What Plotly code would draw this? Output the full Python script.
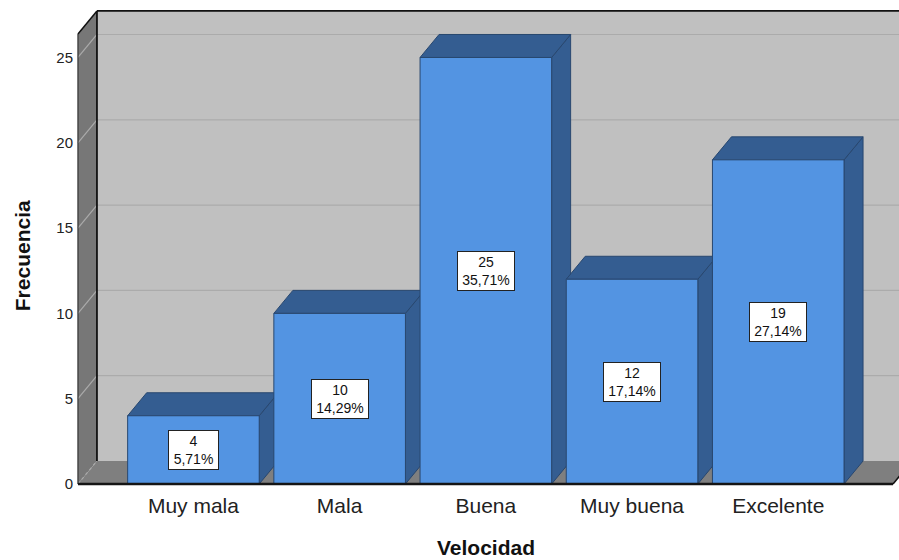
import plotly.graph_objects as go

# --- data ---
categories = ["Muy mala", "Mala", "Buena", "Muy buena", "Excelente"]
counts = [4, 10, 25, 12, 19]
y_ticks = [0, 5, 10, 15, 20, 25]

# --- 3D frame geometry (axis units) ---
DX = 0.130          # depth offset along x
DY = 1.348          # depth offset along y
BAR_HALF = 0.45     # half bar width
WALL_LEFT = -0.790  # front edge of the left wall
WALL_RIGHT = 4.785  # front-right corner of the floor
WALL_TOP = 26.38    # front height of the left wall
X_RANGE = [-0.817, 4.826]
Y_RANGE = [-0.352, 27.90]

FONT = "Liberation Sans, Arial, sans-serif"
FRONT = "#5394E2"
SHADE = "#345D91"
EDGE = "#28476F"

total = sum(counts)
fig = go.Figure()


def poly(xs, ys, fill, line_color=None, width=0):
    fig.add_trace(go.Scatter(
        x=xs + [xs[0]], y=ys + [ys[0]], mode="lines", fill="toself",
        fillcolor=fill,
        line=dict(color=line_color or fill, width=width),
        hoverinfo="skip", showlegend=False))


def seg(xs, ys, color, width, dash=None):
    fig.add_trace(go.Scatter(
        x=xs, y=ys, mode="lines",
        line=dict(color=color, width=width, dash=dash),
        hoverinfo="skip", showlegend=False))


far_right = X_RANGE[1] + 0.5

# back wall
poly([WALL_LEFT + DX, far_right, far_right, WALL_LEFT + DX],
     [DY, DY, WALL_TOP + DY, WALL_TOP + DY], "#C0C0C0")
# left wall
poly([WALL_LEFT, WALL_LEFT + DX, WALL_LEFT + DX, WALL_LEFT],
     [0, DY, WALL_TOP + DY, WALL_TOP], "#777777")
# floor
poly([WALL_LEFT, WALL_RIGHT, WALL_RIGHT + DX, WALL_LEFT + DX],
     [0, 0, DY, DY], "#7F7F7F")

# grid lines: across the back wall and diagonally over the left wall
for v in y_ticks:
    if v > 0:
        seg([WALL_LEFT + DX, far_right], [v + DY, v + DY], "#ABABAB", 1.2)
    seg([WALL_LEFT, WALL_LEFT + DX], [v, v + DY], "#ABABAB", 1.2,
        dash="dot" if v == 0 else None)

# frame edges
seg([WALL_LEFT + DX, far_right], [WALL_TOP + DY, WALL_TOP + DY], "#111111", 1.8)
seg([WALL_LEFT, WALL_LEFT + DX], [WALL_TOP, WALL_TOP + DY], "#111111", 1.5)
seg([WALL_LEFT + DX, WALL_LEFT + DX], [DY, WALL_TOP + DY], "#111111", 1.8)
seg([WALL_LEFT, WALL_LEFT], [0, WALL_TOP], "#333333", 1.2)
seg([WALL_RIGHT, WALL_RIGHT + DX], [0, DY], "#111111", 1.5)

# bars: side, top, then front face
for i, v in enumerate(counts):
    l, r = i - BAR_HALF, i + BAR_HALF
    poly([r, r + DX, r + DX, r], [0, DY, v + DY, v], SHADE, EDGE, 1)
    poly([l, l + DX, r + DX, r], [v, v + DY, v + DY, v], SHADE, EDGE, 1)
    poly([l, r, r, l], [0, 0, v, v], FRONT, EDGE, 1)

# front floor edge
seg([WALL_LEFT, WALL_RIGHT], [0, 0], "#151515", 2.6)

# value labels
annotations = []
for i, v in enumerate(counts):
    pct = f"{v / total * 100:.2f}".replace(".", ",") + "%"
    annotations.append(dict(
        x=i, y=v / 2, xref="x", yref="y",
        text=f"{v}<br>{pct}", showarrow=False,
        font=dict(family=FONT, size=14, color="#111111"),
        bgcolor="white", bordercolor="#222222", borderwidth=1, borderpad=2,
        width=7 * len(pct) + 10, align="center"))

# axis titles
annotations.append(dict(
    x=0.4994, y=0, xref="paper", yref="paper", yshift=-57,
    xanchor="center", yanchor="middle", showarrow=False,
    text="<b>Velocidad</b>", font=dict(family=FONT, size=21, color="#111111")))
annotations.append(dict(
    x=0, y=0.485, xref="paper", yref="paper", xshift=-52,
    xanchor="center", yanchor="middle", showarrow=False, textangle=-90,
    text="<b>Frecuencia</b>", font=dict(family=FONT, size=21, color="#111111")))

fig.update_layout(
    width=899, height=560,
    margin=dict(l=74, r=0, t=8, b=70),
    paper_bgcolor="white", plot_bgcolor="white",
    showlegend=False,
    annotations=annotations,
    xaxis=dict(range=X_RANGE, tickmode="array",
               tickvals=list(range(len(categories))), ticktext=categories,
               tickfont=dict(family=FONT, size=21, color="#222222"),
               showgrid=False, zeroline=False, showline=False,
               ticks="", ticklabelstandoff=1,
               fixedrange=True),
    yaxis=dict(range=Y_RANGE, tickmode="array", tickvals=y_ticks,
               tickfont=dict(family=FONT, size=15, color="#222222"),
               showgrid=False, zeroline=False, showline=False,
               ticks="", fixedrange=True),
)

fig.write_html("out.html")
